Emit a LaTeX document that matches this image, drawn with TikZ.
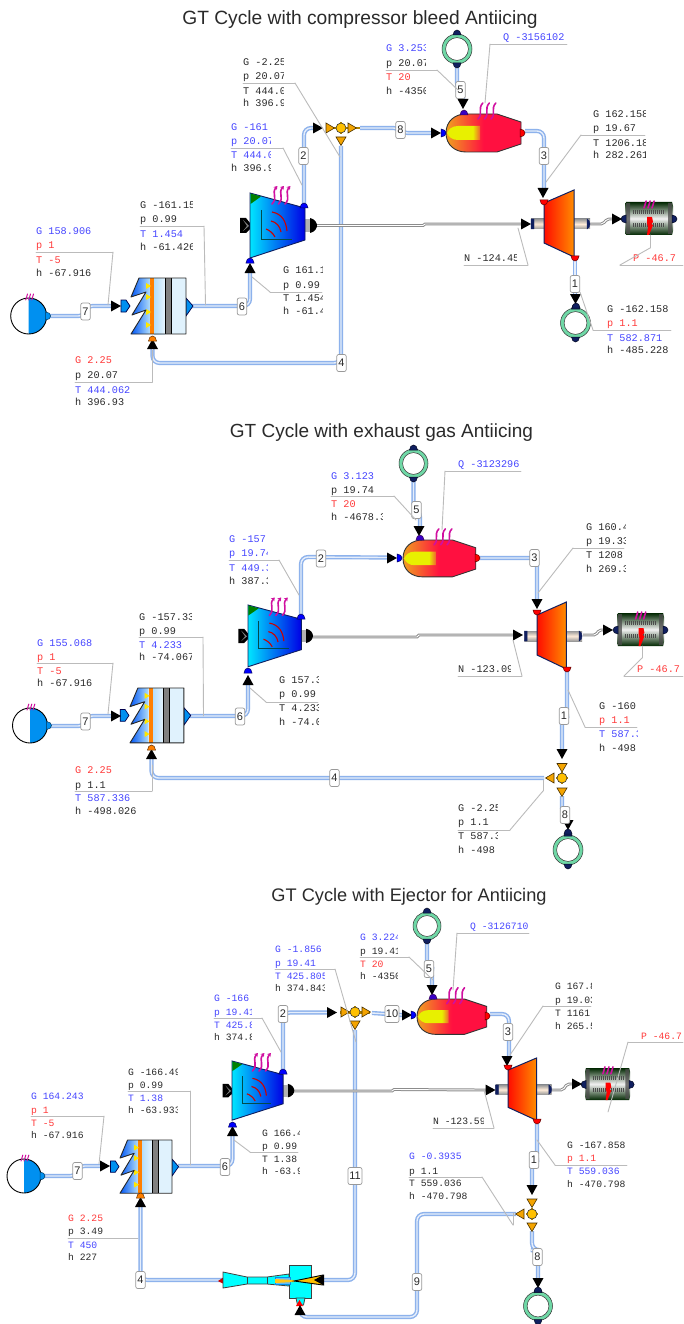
\documentclass[tikz,border=0pt]{standalone}
\usepackage{fontspec}
\setmainfont{Liberation Sans}
\newfontfamily\monof{Liberation Mono}
\usetikzlibrary{arrows.meta}
\definecolor{labb}{HTML}{4646FF}
\definecolor{labr}{HTML}{FF3A3A}
\definecolor{labk}{HTML}{2A2A2A}
\definecolor{leadc}{HTML}{BBBBBB}
\definecolor{pipeo}{HTML}{8DB2EC}
\definecolor{pipei}{HTML}{E6EEFB}
\definecolor{comboc}{HTML}{F0A020}
\definecolor{combrc}{HTML}{FF1040}
\definecolor{flamey}{HTML}{E8F000}
\definecolor{flamee}{HTML}{F06030}
\definecolor{heatc}{HTML}{D010A0}
\definecolor{srcb}{HTML}{0090F0}
\definecolor{navyc}{HTML}{101F60}
\definecolor{ringc}{HTML}{6FD8A6}
\definecolor{orgc}{HTML}{F4A400}
\definecolor{ylwc}{HTML}{FFC000}
\definecolor{cyanc}{HTML}{00FFFF}
\pgfdeclarehorizontalshading{combshade}{100bp}{color(0bp)=(comboc); color(25bp)=(comboc); color(50bp)=(combrc); color(100bp)=(combrc)}
\pgfdeclarehorizontalshading{flameshade}{100bp}{color(0bp)=(flamey); color(25bp)=(flamey); color(64bp)=(flamey); color(75bp)=(flamee); color(100bp)=(flamee)}
\def\labfs{10.2}
\tikzset{
  pipe/.style={draw=pipeo,line width=1.4pt,double=pipei,double distance=1.4pt,rounded corners=7pt},
  shaftl/.style={draw=gray!90,line width=1pt,double=white,double distance=.9pt},
  tagbox/.style={draw=gray!80,fill=white,rounded corners=2pt,line width=.7pt,inner sep=0pt,minimum width=9.5pt,minimum height=17pt,font=\fontsize{11}{11}\selectfont,text=labk},
  widetag/.style={tagbox,minimum width=14pt},
  lab/.style={inner sep=0pt,anchor=base west,font=\monof\fontsize{\labfs}{\labfs}\selectfont},
  titlet/.style={inner sep=0pt,font=\fontsize{19.2}{19.2}\selectfont,text=labk},
  leader/.style={draw=leadc,line width=.9pt,line cap=round},
  heat/.style={draw=heatc,line width=1.6pt,line cap=round},
  heattip/.style={-{Stealth[length=3.5pt,width=4.5pt]}},
}
% text block: name, x, clip x, y/colour/text list
\newcommand{\rows}[4]{\foreach \yy/\cl/\tx in {#4}{%
  \begin{scope}\clip (#2-1,\yy-8) rectangle (#3,\yy+8);
  \node[lab,text=\cl] (#1-\yy) at (#2,{\yy+3.5}) {\tx};
  \end{scope}}}
% leader line through named coordinates
\newcommand{\lead}[2]{\foreach \px/\py [count=\i] in {#2}{%
  \coordinate (#1-\i) at (\px,\py);
  \ifnum\i>1 \pgfmathtruncatemacro\j{\i-1}\draw[leader] (#1-\j) -- (#1-\i);\fi}}
\newcommand{\arr}[3]{\fill[black,shift={(#1,#2)},rotate=#3] (-5,-5.5) -- (5,0) -- (-5,5.5) -- cycle;}
\newcommand{\otri}[3]{\draw[fill=orgc,draw=black!70!orgc,line width=.6pt,shift={(#1,#2)},rotate=#3] (-4,-5) -- (4.5,0) -- (-4,5) -- cycle;}
\newcommand{\prt}[4]{\draw[fill=#3,draw=black!60!#3,line width=.5pt,shift={({#1},{#2})},rotate=#4] (-2,-4) -- (-2,4) .. controls (1,4) and (3,2) .. (3,0) .. controls (3,-2) and (1,-4) .. (-2,-4) -- cycle;}
\newcommand{\jun}[2]{\fill[ylwc!70!black] ({#1-6},{#2-1.2}) rectangle ({#1+6},{#2+1.2}); \fill[ylwc!70!black] ({#1-1.2},{#2-6}) rectangle ({#1+1.2},{#2+6}); \draw[fill=ylwc,draw=black!80,line width=.6pt] (#1,#2) circle[radius=5];}
\newcommand{\heatz}[5]{\foreach \k in {0,1,2}{\draw[heat,#5] ({#1+\k*#3},{#2}) .. controls ({#1+\k*#3+.35*#4},{#2-.35*#4}) and ({#1+\k*#3-.05*#4},{#2-.6*#4}) .. ({#1+\k*#3+.3*#4},{#2-#4});}}
\newcommand{\ring}[3]{\draw[fill=ringc,draw=black!80,line width=.5pt] (#1,#2) circle[radius=#3];
  \draw[fill=white,draw=black!80,line width=.5pt] (#1,#2) circle[radius={#3-3.6}];
  \prt{#1}{(#2-#3-1)}{navyc}{90}\prt{#1}{(#2+#3+1)}{navyc}{270}}
\newcommand{\source}[3]{\fill[white] (#1,#2) circle[radius=#3];
  \begin{scope}\clip (#1,#2-#3-1) rectangle ({#1+#3+1},{#2+#3+1});\fill[srcb] (#1,#2) circle[radius=#3];\end{scope}
  \draw[black,line width=.9pt] (#1,#2) circle[radius=#3];
  \prt{(#1+#3+1)}{#2}{srcb}{0}
  \heatz{(#1-3)}{(#2-#3+2)}{3}{6}{line width=1pt}}
% x,y,xscale,yscale
\newcommand{\compressor}[4]{\begin{scope}[shift={(#1,#2)},xscale=#3,yscale=#4]
  \fill[black] (-10,25) -- (-4,25) -- (0,30) -- (0,36) -- (-4,40) -- (-10,40) -- cycle;
  \fill[gray] (-7,27) -- (-1,33) -- (-7,38) -- (-3,33) -- cycle;
  \fill[black] (60,25) .. controls (65,26) and (67,30) .. (67,32.5) .. controls (67,35) and (65,39) .. (60,40) -- cycle;
  \fill[gray!60] (55,26) rectangle (60,39);
  \draw[left color=cyan!90!blue,right color=blue!90!black,draw=navyc,line width=.9pt] (0,0) -- (55,15) -- (55,47) -- (0,65) -- cycle;
  \fill[green!50!black] (.5,.5) -- (11,3.5) -- (.5,11) -- cycle;
  \draw[black!40!teal,line width=.7pt] (11,17) -- (11,46) -- (42,46);
  \draw[red!80!black,line width=1.1pt] (22,19) .. controls (32,21) and (36,28) .. (37,38);
  \draw[red!80!black,line width=1.1pt] (21,28) .. controls (26,29) and (30,33) .. (31,39);
  \draw[red!80!black,line width=1.1pt] (16,36) .. controls (19,37) and (23,40) .. (25,44);
 \end{scope}
 \heatz{(#1+22*#3)}{(#2+11*#4)}{6.5}{18}{heattip}}
\newcommand{\recup}[4]{\begin{scope}[shift={(#1,#2)},xscale=#3,yscale=#4]
  \draw[fill=srcb,draw=black!70!blue,line width=.7pt] (-10,22) -- (-5,22) -- (-1,28) -- (-5,34) -- (-10,34) -- cycle;
  \draw[fill=srcb,draw=black!70!blue,line width=.7pt] (55,20) -- (62,28) -- (55,38) -- cycle;
  \path[left color=blue!40!srcb,right color=srcb!30] (8,0) -- (19,0) -- (19,56) -- (0,56) -- (15,32) -- (1,37) -- (15,14) -- (0,19) -- cycle;
  \path[left color=srcb!30,right color=srcb!10] (23,0) rectangle (34,56);
  \fill[srcb!12] (40,0) rectangle (55,56);
  \fill[gray] (34,0) rectangle (40,56);
  \draw[black,line width=.5pt] (34,0) -- (34,56) (40,0) -- (40,56);
  \fill[orange] (19,0) rectangle (23,56);
  \foreach \q in {8,19,34,47} \fill[yellow!90!orange] (15,\q-3) -- (20,\q) -- (15,\q+3) -- cycle;
  \draw[black!85,line width=.9pt,line join=round] (8,0) -- (55,0) -- (55,56) -- (0,56) -- (15,32) -- (1,37) -- (15,14) -- (0,19) -- cycle;
 \end{scope}}
\newcommand{\combustor}[4]{\begin{scope}[shift={(#1,#2)},xscale=#3,yscale=#4]
  \draw[shading=combshade,draw=black!80,line width=.9pt] (0,19) .. controls (0,7) and (9,0) .. (20,0) -- (51,0) -- (75,8) -- (75,30) -- (51,38) -- (20,38) .. controls (9,38) and (0,31) .. (0,19) -- cycle;
  \path[shading=flameshade] (1,19) .. controls (3,15) and (6,12) .. (12,12) -- (34,12) -- (34,26) -- (12,26) .. controls (6,26) and (3,23) .. (1,19) -- cycle;
 \end{scope}
 \heatz{(#1+32*#3)}{(#2+5*#4)}{6.5}{16}{}}
\newcommand{\turbine}[4]{\begin{scope}[shift={(#1,#2)},xscale=#3,yscale=#4]
  \path[top color=gray!80,bottom color=gray!80,middle color=orange!15!white] (-13,29) rectangle (0,39);
  \path[top color=gray!80,bottom color=gray!80,middle color=orange!15!white] (30,29) rectangle (46,39);
  \draw[navyc,fill=navyc] (-13,29) rectangle (-10,39) (43,29) .. controls (47,30) and (47,38) .. (43,39) -- cycle;
  \draw[left color=red!90!orange,right color=orange!90!yellow,draw=navyc,line width=1pt] (0,13) -- (30,0) -- (30,67) -- (0,53) -- cycle;
 \end{scope}}
\newcommand{\generator}[4]{\begin{scope}[shift={(#1,#2)},xscale=#3,yscale=#4]
  \path[top color=black!85!green,bottom color=black!85!green,middle color=white!90!gray] (1,0) -- (47,0) -- (48,4) -- (48,29) -- (47,33) -- (1,33) -- (0,29) -- (0,4) -- cycle;
  \fill[black!70,opacity=.75] (1,1) rectangle (5,32) (43,1) rectangle (47,32);
  \draw[black!70,line width=4pt,dash pattern=on .8pt off 1.2pt] (8,10) -- (40,10) (8,23) -- (40,23);
  \fill[red] (22,15) -- (27,15) -- (28,20) -- (26,22) -- (28,23) -- (24,33) -- (22,33) -- (23,25) -- (22,21) -- cycle;
 \end{scope}
 \heatz{(#1+19*#3)}{(#2+6*#4)}{4}{7}{}
 \prt{(#1-1)}{(#2+17*#4)}{navyc}{180}\prt{(#1+48*#3+1)}{(#2+17*#4)}{navyc}{0}}
\begin{document}
\begin{tikzpicture}[x=1pt,y=-1pt]
\useasboundingbox[fill=white] (0,0) rectangle (683,1324);
% ---- titles
\node[titlet] (titleA) at (360,19.5) {GT Cycle with compressor bleed Antiicing};
\node[titlet,font=\fontsize{19}{19}\selectfont] (titleB) at (381.5,433) {GT Cycle with exhaust gas Antiicing};
\node[titlet,font=\fontsize{18.2}{18.2}\selectfont] (titleC) at (409,897) {GT Cycle with Ejector for Antiicing};
% ---- coordinates
\foreach \n/\x/\y in {a7a/50/316,a7b/85.5/316,a7c/85.5/306,a7d/112/306,a6a/192/306,a6b/250/306,a6c/250/272,a2a/304/205,a2b/304/128,a2c/314/128,a8a/360/128,a8b/400.5/128,a8c/400.5/133,a8d/432/133,a4a/341/146,a4b/341/363,a4c/152.5/363,a4d/152.5/349,a5a/457/67,a5b/457/90,a5c/463/90,a5d/463/101,a3a/525/131,a3b/544/131,a3c/544/190,a1a/575/260,a1b/575/296,as1/316/225.5,as2/423/225.5,as3/425/224,as4/521/224,ao1/590/224,ao2/603/224,ao3/607/219,ao4/612/219,
 b7a/51/726,b7b/85.5/726,b7c/85.5/716,b7d/112/716,b6a/190/716,b6b/248/716,b6c/248/684,b2a/301/617,b2b/301/557,b2c/387/557.5,b5a/413.5/481,b5b/413.5/510,b5c/420/510,b5d/420/528,b3a/480/558,b3b/537/558,b3c/537/600,b1a/567/671,b1b/567/716,b1c/562/716,b1d/562/751,b8a/562/796,b8b/562/815,b8c/568/815,b8d/568/822,b4a/544/778,b4b/151.5/778,b4c/151.5/759,bs1/313/637,bs2/417/637,bs3/419/635,bs4/514/635,bo1/583/635,bo2/596/635,bo3/599/630,bo4/604/630,
 c7a/44/1176,c7b/77.5/1176,c7c/77.5/1166,c7d/102/1166,c6a/178/1166,c6b/232.5/1166,c6c/232.5/1136,c2a/283/1072,c2b/283/1012.5,c2c/328/1012.5,c10a/372/1013,c10b/402/1015,c5a/427/943,c5b/427/969,c5c/432/969,c5d/432/987,c3a/490/1014,c3b/509/1014,c3c/509/1057,c1a/537/1124,c1b/537/1160,c1c/532/1160,c1d/532/1187,c8a/532/1231,c8b/532/1250,c8c/538/1250,c8d/538/1279,c9a/516/1214,c9b/417/1214,c9c/417/1317,c9d/300/1317,c9e/300/1312,c11a/355/1030,c11b/355/1280,c11c/322/1280,c4a/140.5/1205,c4b/140.5/1280,c4c/223/1280,cs1/294/1091,cs2/392/1091,cs3/394/1089.5,cs4/486/1090,co1/552/1090,co2/563/1090,co3/567/1084,co4/573/1084}
 {\coordinate (\n) at (\x,\y);}
% ---- pipes and shafts A
\draw[pipe] (a7a) -- (a7b) -- (a7c) -- (a7d);
\draw[pipe] (a6a) -- (a6b) -- (a6c);
\draw[pipe] (a2a) -- (a2b) -- (a2c);
\draw[pipe] (a8a) -- (a8b) -- (a8c) -- (a8d);
\draw[pipe] (a4a) -- (a4b) -- (a4c) -- (a4d);
\draw[pipe] (a5a) -- (a5b) -- (a5c) -- (a5d);
\draw[pipe] (a3a) -- (a3b) -- (a3c);
\draw[pipe] (a1a) -- (a1b);
\draw[shaftl] (as1) -- (as2) -- (as3) -- (as4);
\draw[shaftl,rounded corners=2pt] (ao1) -- (ao2) -- (ao3) -- (ao4);
% ---- pipes and shafts B
\draw[pipe] (b7a) -- (b7b) -- (b7c) -- (b7d);
\draw[pipe] (b6a) -- (b6b) -- (b6c);
\draw[pipe] (b2a) -- (b2b) -- (b2c);
\draw[pipe] (b5a) -- (b5b) -- (b5c) -- (b5d);
\draw[pipe] (b3a) -- (b3b) -- (b3c);
\draw[pipe] (b1a) -- (b1b) -- (b1c) -- (b1d);
\draw[pipe] (b8a) -- (b8b) -- (b8c) -- (b8d);
\draw[pipe] (b4a) -- (b4b) -- (b4c);
\draw[shaftl] (bs1) -- (bs2) -- (bs3) -- (bs4);
\draw[shaftl,rounded corners=2pt] (bo1) -- (bo2) -- (bo3) -- (bo4);
% ---- pipes and shafts C
\draw[pipe] (c7a) -- (c7b) -- (c7c) -- (c7d);
\draw[pipe] (c6a) -- (c6b) -- (c6c);
\draw[pipe] (c2a) -- (c2b) -- (c2c);
\draw[pipe] (c10a) -- (c10b);
\draw[pipe] (c5a) -- (c5b) -- (c5c) -- (c5d);
\draw[pipe] (c3a) -- (c3b) -- (c3c);
\draw[pipe] (c1a) -- (c1b) -- (c1c) -- (c1d);
\draw[pipe] (c8a) -- (c8b) -- (c8c) -- (c8d);
\draw[pipe] (c9a) -- (c9b) -- (c9c) -- (c9d) -- (c9e);
\draw[pipe] (c11a) -- (c11b) -- (c11c);
\draw[pipe] (c4a) -- (c4b) -- (c4c);
\draw[shaftl] (cs1) -- (cs2) -- (cs3) -- (cs4);
\draw[shaftl,rounded corners=2pt] (co1) -- (co2) -- (co3) -- (co4);
% ---- components A
\source{28.7}{316}{18}
\recup{131}{278}{1}{1}
\compressor{250}{193}{1}{1}
\combustor{446}{114}{1}{1}
\turbine{544}{190}{1}{1}
\generator{625}{202}{1}{1}
\ring{457}{49}{15}
\ring{575.5}{323}{15}
\arr{116}{306}{0}\arr{436}{133}{0}\arr{318}{128}{0}\arr{526}{224}{0}\arr{617}{219}{0}
\arr{250}{268}{90}\arr{152.5}{344}{90}\arr{463}{104}{270}\arr{543}{193}{270}\arr{575.5}{299}{270}
\prt{250}{261}{blue}{90}\prt{304}{206}{blue}{90}\prt{152.5}{339}{orange}{90}\prt{443}{133}{blue}{0}
\prt{464}{113}{blue!70!purple}{90}\prt{522}{133}{red}{0}\prt{544}{202}{red}{270}\prt{575}{258}{red}{270}\prt{576}{306}{navyc}{90}
\fill[ylwc!70!black] (328,126.8) rectangle (360,129.2);
\jun{341}{128}\otri{330}{128}{0}\otri{352}{128}{0}\otri{341}{141}{270}
% ---- components B
\source{30}{725.5}{17.5}
\recup{130}{688}{.98}{.98}
\compressor{248}{605}{.97}{.95}
\combustor{403}{540}{.97}{.97}
\turbine{537}{602}{.98}{1}
\generator{617}{613}{.98}{1}
\ring{413.5}{463.5}{14.5}
\ring{568}{850}{15}
\arr{116}{716}{0}\arr{392}{558}{0}\arr{518}{635}{0}\arr{608}{630}{0}
\arr{248}{680}{90}\arr{151.5}{754}{90}\arr{419}{531}{270}\arr{537}{604}{270}\arr{562}{754}{270}\arr{568}{825}{270}
\prt{248}{671}{blue}{90}\prt{301}{617}{blue}{90}\prt{151.5}{748}{orange}{90}\prt{399}{558}{blue}{0}
\prt{420}{538}{blue!70!purple}{90}\prt{477}{558}{red}{0}\prt{537}{612}{red}{270}\prt{567}{669}{red}{270}\prt{568}{832}{navyc}{90}
\jun{562}{778}\otri{562}{767.5}{270}\otri{550}{778}{180}\otri{562}{792}{270}
% ---- components C
\source{24}{1176}{17}
\recup{120}{1140}{.945}{.95}
\compressor{232}{1061}{.93}{.91}
\combustor{417}{999}{.93}{.93}
\turbine{508}{1058}{.95}{.93}
\generator{585}{1068}{.94}{.97}
\ring{427}{926}{14}
\ring{538}{1306}{14.5}
\arr{105}{1166}{0}\arr{332}{1012.5}{0}\arr{407}{1015}{0}\arr{490.5}{1090}{0}\arr{577}{1084}{0}
\arr{232.5}{1131}{90}\arr{140.5}{1202}{90}\arr{432}{990}{270}\arr{507}{1061}{270}\arr{532}{1190}{270}\arr{538}{1283}{270}
\prt{232.5}{1125}{blue}{90}\prt{283}{1072}{blue}{90}\prt{140.5}{1196}{orange}{90}\prt{413}{1015}{blue}{0}
\prt{433}{997}{blue!70!purple}{90}\prt{487}{1016}{red}{0}\prt{508}{1067}{red}{270}\prt{537}{1121}{red}{270}\prt{538}{1290}{navyc}{90}
\fill[ylwc!70!black] (340,1011.3) rectangle (370,1013.7);
\jun{355}{1012}\otri{345}{1012}{0}\otri{366}{1012}{0}\otri{355}{1025}{270}
\jun{532}{1214}\otri{532}{1203}{270}\otri{520}{1214}{180}\otri{532}{1227}{270}
% ejector
\fill[red!80!black] (224,1277) -- (218,1281) -- (224,1284) -- cycle;
\draw[fill=cyanc,draw=black!75,line width=.8pt] (223,1272) -- (247,1277) -- (267,1277) -- (289,1274) -- (289,1286) -- (267,1284) -- (247,1284) -- (223,1288) -- cycle;
\draw[black!75,line width=.7pt] (247,1277) -- (247,1284) (267,1277) -- (267,1284);
\draw[fill=cyanc,draw=black!75,line width=.8pt] (289,1265) rectangle (311.5,1298);
\draw[fill=cyanc,draw=black!75,line width=.8pt] (296,1298) -- (297.5,1305) -- (303.5,1305) -- (305,1298) -- cycle;
\draw[fill=srcb!60,draw=srcb,line width=.5pt] (275,1277) rectangle (290,1284);
\fill[ylwc!90!white] (275,1279) -- (294,1280) -- (294,1282) -- (275,1283) -- cycle;
\draw[fill=ylwc,draw=black,line width=.9pt] (294,1281) -- (323,1275) -- (323,1285) -- cycle;
\fill[red] (299.5,1300) -- (303,1306) -- (296,1306) -- cycle;
\arr{300}{1310}{90}\arr{319}{1280}{180}
% ---- pipe tags
\node[tagbox] (tA7) at (85.5,311.5) {7};
\node[tagbox] (tA6) at (242,306.5) {6};
\node[tagbox] (tA2) at (303.5,156) {2};
\node[tagbox] (tA8) at (400.5,130) {8};
\node[tagbox] (tA4) at (341.5,363) {4};
\node[tagbox] (tA5) at (460.5,90) {5};
\node[tagbox] (tA3) at (544,156) {3};
\node[tagbox] (tA1) at (575,284) {1};
\node[tagbox] (tB7) at (85.5,721.5) {7};
\node[tagbox] (tB6) at (240,716.5) {6};
\node[tagbox] (tB2) at (321,558.5) {2};
\node[tagbox] (tB5) at (416.5,510) {5};
\node[tagbox] (tB3) at (534.5,558) {3};
\node[tagbox] (tB1) at (564,716) {1};
\node[tagbox] (tB8) at (565,815) {8};
\node[tagbox] (tB4) at (334.5,778) {4};
\node[tagbox] (tC7) at (77.5,1171) {7};
\node[tagbox] (tC6) at (225,1167) {6};
\node[tagbox] (tC2) at (283,1014) {2};
\node[widetag] (tC10) at (392,1014) {10};
\node[tagbox] (tC5) at (429,969) {5};
\node[tagbox] (tC3) at (508,1032) {3};
\node[tagbox] (tC1) at (534,1160) {1};
\node[tagbox] (tC8) at (537.5,1257) {8};
\node[tagbox] (tC9) at (417,1282) {9};
\node[widetag] (tC11) at (355,1176) {11};
\node[tagbox] (tC4) at (140.5,1280) {4};
% ---- labels A
\rows{lA1}{36}{110}{231/labb/G 158.906,245/labr/p 1,260/labr/T -5,273/labk/h -67.916}
\lead{dA1}{36/252,113/252,108/305}
\rows{lA2}{140}{192}{205/labk/G -161.15,219/labk/p 0.99,234/labb/T 1.454,247/labk/h -61.426}
\lead{dA2}{140/226,204/226,205.5/305}
\rows{lA3}{283}{322}{270/labk/G 161.15,285/labk/p 0.99,298/labk/T 1.454,311/labk/h -61.426}
\lead{dA3}{322/292,270/292,252/277}
\rows{lA4}{231}{270}{127/labb/G -161,141/labb/p 20.07,155/labb/T 444.06,168/labk/h 396.93}
\lead{dA4}{231/148,283/148,302/185}
\rows{lA5}{243}{283}{62/labk/G -2.25,76/labk/p 20.07,91/labk/T 444.06,103/labk/h 396.93}
\lead{dA5}{243/83,295/83,340/157}
\rows{lA6}{75}{140}{360/labr/G 2.25,375/labk/p 20.07,390/labb/T 444.062,402/labk/h 396.93}
\lead{dA6}{75/382,152.5/382,152.5/350}
\rows{lA7}{386}{425}{48/labb/G 3.253,63/labk/p 20.07,77/labr/T 20,91/labk/h -4350}
\lead{dA7}{386/70,437/70,458/90}
\rows{lA8}{503}{570}{37/labb/Q -3156102}
\lead{dA8}{567/44,490/44,485/103}
\rows{lA9}{593}{645}{114/labk/G 162.158,128/labk/p 19.67,143/labk/T 1206.18,155/labk/h 282.261}
\lead{dA9}{645/135,581/135,546/182}
\rows{lA10}{464}{516}{258/labk/N -124.45}
\lead{dA10}{464/265,528/265,518/228}
\rows{lA11}{633}{683}{258/labr/P -46.7}
\lead{dA11}{683/265,620/265,650/248,650/235}
\rows{lA12}{607}{671}{309/labk/G -162.158,323/labr/p 1.1,338/labb/T 582.871,350/labk/h -485.228}
\lead{dA12}{671/330,593/330,580/292}
% ---- labels B
\rows{lB1}{37}{110}{643/labb/G 155.068,657/labr/p 1,671/labr/T -5,683/labk/h -67.916}
\lead{dB1}{37/663,113/663,108/714}
\rows{lB2}{139}{191}{617/labk/G -157.33,631/labk/p 0.99,645/labb/T 4.233,657/labk/h -74.067}
\lead{dB2}{139/637,203/637,203.5/716}
\rows{lB3}{279}{318}{680/labk/G 157.33,694/labk/p 0.99,708/labk/T 4.233,722/labk/h -74.06}
\lead{dB3}{318/702,266/702,250/688}
\rows{lB4}{229}{267}{539/labb/G -157,553/labb/p 19.74,568/labb/T 449.3,581/labk/h 387.3}
\lead{dB4}{229/560,279/560,299/595}
\rows{lB5}{331}{382}{476/labb/G 3.123,490/labk/p 19.74,504/labr/T 20,517/labk/h -4678.3}
\lead{dB5}{331/496,394/496,416/520}
\rows{lB6}{75}{140}{770/labr/G 2.25,785/labk/p 1.1,798/labb/T 587.336,811/labk/h -498.026}
\lead{dB6}{75/791,152/791,152/765}
\rows{lB7}{458}{525}{464/labb/Q -3123296}
\lead{dB7}{521/471,445/471,442/530}
\rows{lB8}{586}{625}{527/labk/G 160.4,541/labk/p 19.33,555/labk/T 1208,569/labk/h 269.3}
\lead{dB8}{624/548,573/548,538/593}
\rows{lB9}{458}{510}{669/labk/N -123.09}
\lead{dB9}{458/676,522/676,513/640}
\rows{lB10}{637}{683}{669/labr/P -46.7}
\lead{dB10}{683/676,624/676,642/658,642/646}
\rows{lB11}{599}{637}{706/labk/G -160,720/labr/p 1.1,734/labb/T 587.3,748/labk/h -498}
\lead{dB11}{637/727,585/727,568/690}
\rows{lB12}{458}{497}{808/labk/G -2.25,822/labk/p 1.1,836/labk/T 587.3,850/labk/h -498}
\lead{dB12}{458/830,510/830,543/791,543/780}
% ---- labels C
\def\labfs{9.7}
\rows{lC1}{31}{100}{1096/labb/G 164.243,1110/labr/p 1,1123/labr/T -5,1135/labk/h -67.916}
\lead{dC1}{31/1116,104/1116,99/1164}
\rows{lC2}{128}{177}{1072/labk/G -166.49,1085/labk/p 0.99,1098/labb/T 1.38,1110/labk/h -63.933}
\lead{dC2}{128/1091,190/1091,190/1165}
\rows{lC3}{262}{299}{1133/labk/G 166.49,1146/labk/p 0.99,1159/labk/T 1.38,1171/labk/h -63.93}
\lead{dC3}{298/1152,250/1152,234/1140}
\rows{lC4}{214}{251}{998/labb/G -166,1012/labb/p 19.41,1025/labb/T 425.8,1037/labk/h 374.8}
\lead{dC4}{214/1018,262/1018,281/1052}
\rows{lC5}{275}{324}{949/labb/G -1.856,963/labb/p 19.41,976/labb/T 425.805,988/labk/h 374.843}
\lead{dC5}{275/969,335/969,356/1042}
\rows{lC6}{360}{397}{937/labb/G 3.224,951/labk/p 19.41,964/labr/T 20,976/labk/h -4350}
\lead{dC6}{360/957,409/957,433/980}
\rows{lC7}{470}{532}{926/labb/Q -3126710}
\lead{dC7}{529/933,457/933,453/990}
\rows{lC8}{555}{591}{986/labk/G 167.8,1000/labk/p 19.03,1013/labk/T 1161,1026/labk/h 265.5}
\lead{dC8}{591/1006,543/1006,510/1055}
\rows{lC9}{433}{483}{1121/labk/N -123.59}
\lead{dC9}{433/1128,494/1128,484/1090}
\rows{lC10}{641}{683}{1036/labr/P -46.7}
\lead{dC10}{683/1042,628/1042,608/1112}
\rows{lC11}{567}{627}{1145/labk/G -167.858,1158/labr/p 1.1,1171/labb/T 559.036,1184/labk/h -470.798}
\lead{dC11}{627/1165,555/1165,537/1140}
\rows{lC12}{409}{470}{1156/labb/G -0.3935,1171/labk/p 1.1,1183/labk/T 559.036,1196/labk/h -470.798}
\lead{dC12}{409/1177,482/1177,513/1225,513/1213}
\rows{lC13}{68}{110}{1218/labr/G 2.25,1231/labk/p 3.49,1245/labb/T 450,1257/labk/h 227}
\lead{dC13}{68/1238,138/1238}
\end{tikzpicture}
\end{document}
